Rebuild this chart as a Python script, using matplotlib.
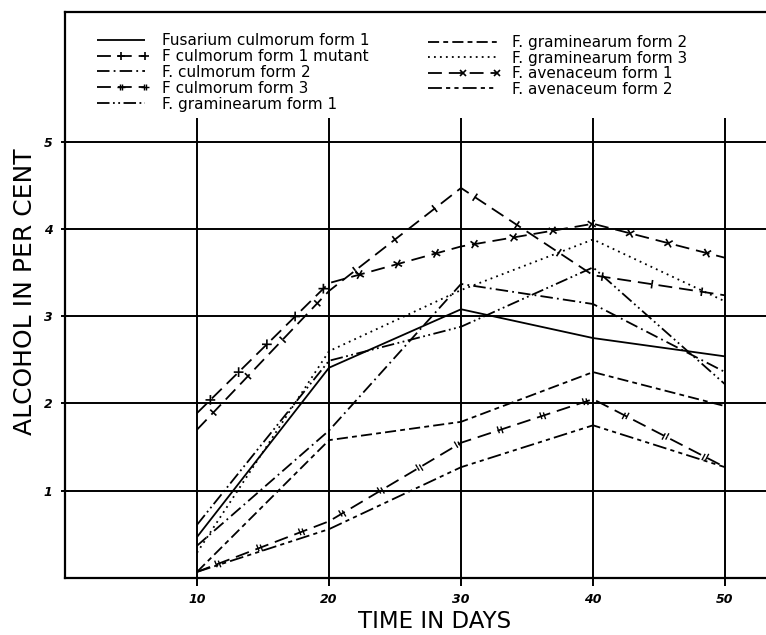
import numpy as np
import matplotlib
matplotlib.use("Agg")
import matplotlib.pyplot as plt
from matplotlib.lines import Line2D
from matplotlib.path import Path
from matplotlib.legend_handler import HandlerLine2D
import matplotlib.patheffects as pe

plt.rcParams['font.family'] = ['DejaVu Sans']
plt.rcParams['lines.scale_dashes'] = False

# ---------------- data ----------------
days = [10, 20, 30, 40, 50]
culmorum_1 = [0.47, 2.41, 3.08, 2.75, 2.54]
culmorum_1_mutant = [1.70, 3.29, 4.47, 3.47, 3.24]
culmorum_2 = [0.37, 1.69, 3.37, 3.14, 2.36]
culmorum_3 = [0.07, 0.65, 1.55, 2.05, 1.27]
graminearum_1 = [0.61, 2.49, 2.88, 3.56, 2.22]
graminearum_2 = [0.07, 1.58, 1.79, 2.36, 1.97]
graminearum_3 = [0.29, 2.60, 3.30, 3.88, 3.17]
avenaceum_1 = [1.89, 3.38, 3.80, 4.06, 3.67]
avenaceum_2 = [0.07, 0.56, 1.27, 1.75, 1.27]

labels_left = ["Fusarium culmorum form 1", "F culmorum form 1 mutant",
               "F. culmorum form 2", "F culmorum form 3", "F. graminearum form 1"]
labels_right = ["F. graminearum form 2", "F. graminearum form 3",
                "F. avenaceum form 1", "F. avenaceum form 2"]
x_ticks = [10, 20, 30, 40, 50]
y_ticks = [1, 2, 3, 4, 5]

# double-cross marker (legend)
dbl = Path([(-1, 0), (1, 0), (-0.35, -0.8), (-0.35, 0.8), (0.35, -0.8), (0.35, 0.8)],
           [Path.MOVETO, Path.LINETO, Path.MOVETO, Path.LINETO, Path.MOVETO, Path.LINETO])

SOLID = {'dash_offset': 0, 'dash_list': None}


def ticks(spacing, length, angles, offsets=((0, 0),), lw=1.2):
    effects = [pe.Normal()]
    for off in offsets:
        for a in angles:
            effects.append(pe.TickedStroke(offset=off, spacing=spacing, angle=a, length=length,
                                           linewidth=lw, dashes=SOLID))
    return effects


LW = 1.3
line_styles = [
    (0, ()),
    (0, (10, 5)),
    (0, (9, 3, 1.3, 3)),
    (0, (10, 5)),
    (0, (9, 2.5, 1.3, 2.5, 1.3, 2.5)),
    (0, (8, 3, 3.5, 3)),
    (0, (1.3, 3.0)),
    (0, (10, 5)),
    (0, (10, 3, 3, 3, 3, 3)),
]
line_effects = [
    None,
    ticks(34, 0.09, (90, -90)),
    None,
    ticks(32, 0.08, (90, -90), offsets=((-1.3, 0), (1.3, 0)), lw=1.0),
    None,
    None,
    None,
    ticks(27, 0.13, (45, -135, 135, -45)),
    None,
]
legend_markers = [None, dict(marker='+', ms=6, mew=1.2), None,
                  dict(marker=dbl, ms=6, mew=1.0, mfc='none'), None, None, None,
                  dict(marker='x', ms=4.5, mew=1.2), None]
series = [culmorum_1, culmorum_1_mutant, culmorum_2, culmorum_3, graminearum_1,
          graminearum_2, graminearum_3, avenaceum_1, avenaceum_2]

W, H = 766, 635
fig = plt.figure(figsize=(W / 100, H / 100), dpi=100)
ax = fig.add_axes([65 / W, 1 - 578 / H, 1 - 65 / W, (578 - 12) / H])
ax.set_xlim(0, 53.1)
ax.set_ylim(0, 6.487)

# grid
ax.set_yticks(y_ticks)
ax.set_xticks(x_ticks)
ax.yaxis.grid(True, color='black', lw=1.4)
ax.vlines(x_ticks, 0, 5.27, color='black', lw=1.4, zorder=1)

for vals, ls, eff in zip(series, line_styles, line_effects):
    ln, = ax.plot(days, vals, color='black', lw=LW, ls=ls, zorder=3)
    if eff is not None:
        ln.set_path_effects(eff)

for s in ['left', 'top', 'bottom']:
    ax.spines[s].set_linewidth(1.6)
ax.spines['right'].set_visible(False)

ax.tick_params(axis='x', direction='out', length=6, width=1.4, pad=5, labelsize=9)
ax.tick_params(axis='y', direction='inout', length=6, width=1.4, pad=6, labelsize=9)
for t in ax.get_xticklabels() + ax.get_yticklabels():
    t.set_fontstyle('italic')
    t.set_fontweight('bold')

fig.text(435 / W, 1 - 622 / H, "TIME IN DAYS", ha='center', va='center', fontsize=16.5)
fig.text(25 / W, 1 - 292 / H, "ALCOHOL IN PER CENT", ha='center', va='center',
         rotation=90, fontsize=18)


# legends
class MarkHandler(HandlerLine2D):
    def create_artists(self, *args, **kwargs):
        arts = super().create_artists(*args, **kwargs)
        for a in arts:
            a.set_markevery([1, 2])
        return arts


def proxy(ls, mk):
    kw = mk or {}
    return Line2D([], [], color='black', lw=LW, ls=ls, **kw)


FS = 11
fspx = FS * 100 / 72
pad = 0.3 * fspx
handles = [proxy(ls, mk) for ls, mk in zip(line_styles, legend_markers)]
hmap = {h: MarkHandler(numpoints=3) for h in handles}

leg1 = ax.legend(handles[:5], labels_left, loc='upper left', handler_map=hmap,
                 bbox_to_anchor=((97 - pad) / W, 1 - 33 / H), bbox_transform=fig.transFigure,
                 frameon=False, fontsize=FS, numpoints=3, borderpad=0, borderaxespad=0,
                 handlelength=(48 + 2 * pad) / fspx, handletextpad=(17 - pad) / fspx,
                 labelspacing=0.06)
ax.add_artist(leg1)
leg2 = ax.legend(handles[5:], labels_right, loc='upper left', handler_map=hmap,
                 bbox_to_anchor=((428 - pad) / W, 1 - 35 / H), bbox_transform=fig.transFigure,
                 frameon=False, fontsize=FS, numpoints=3, borderpad=0, borderaxespad=0,
                 handlelength=(69 + 2 * pad) / fspx, handletextpad=(15 - pad) / fspx,
                 labelspacing=0.04)

fig.savefig("out.png", dpi=100)
